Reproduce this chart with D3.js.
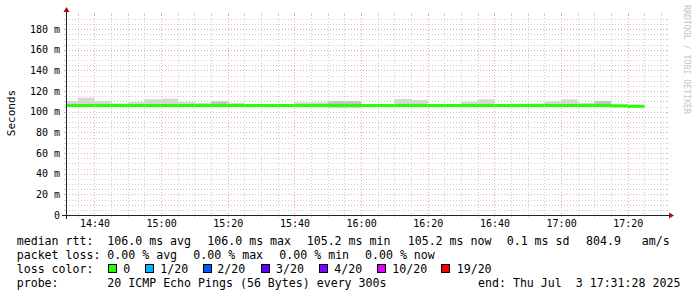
<!DOCTYPE html>
<html>
<head>
<meta charset="utf-8">
<script src="https://cdn.jsdelivr.net/npm/d3@7"></script>
<style>
  body { margin: 0; background: #fff; }
  svg text { font-family: "DejaVu Sans Mono", monospace; fill: #000; }
</style>
</head>
<body>
<svg id="chart" width="697" height="297"></svg>
<script>
// 5-minute steps (end time of each step)
const stepEnds = ["14:35","14:40","14:45","14:50","14:55","15:00","15:05","15:10","15:15","15:20",
  "15:25","15:30","15:35","15:40","15:45","15:50","15:55","16:00","16:05","16:10",
  "16:15","16:20","16:25","16:30","16:35","16:40","16:45","16:50","16:55","17:00",
  "17:05","17:10","17:15","17:20","17:25"];

// median rtt per step (ms)
const median = [106.0,106.0,106.0,106.0,106.0,106.0,106.0,106.0,106.0,106.0,
  106.0,106.0,106.0,106.0,106.0,106.0,106.0,106.0,106.0,106.0,
  106.0,106.0,106.0,106.0,106.0,106.0,106.0,106.0,106.0,106.0,
  106.0,106.0,106.0,105.6,105.2];

// smoke: highest and lowest ping per step (ms)
const smokeHi = [110.3,113.5,110.3,108.0,109.4,112.0,112.6,109.4,108.5,110.0,
  108.5,107.5,107.5,107.5,109.0,109.0,110.2,110.2,107.5,107.5,
  112.2,111.3,107.5,107.5,109.7,112.0,107.5,107.8,108.0,110.0,
  112.0,108.5,110.3,107.2,106.5];
const smokeLo = [104.5,104.5,104.5,104.6,104.6,104.6,104.6,104.6,104.6,104.5,
  104.6,104.7,104.7,104.7,104.3,104.3,103.8,103.8,104.7,104.7,
  104.6,104.6,104.7,104.7,104.3,104.6,104.7,104.6,104.6,104.6,
  104.6,104.6,104.5,104.6,104.8];
// steps with denser smoke
const smokeDense = ["15:20","15:55","16:00","17:15"];

const yTicks = [0, 20, 40, 60, 80, 100, 120, 140, 160, 180];
const yLabels = ["0", "20 m", "40 m", "60 m", "80 m", "100 m", "120 m", "140 m", "160 m", "180 m"];
const xTicks = ["14:40", "15:00", "15:20", "15:40", "16:00", "16:20", "16:40", "17:00", "17:20"];

const lossColors = ["#26ff00", "#00b8ff", "#0059ff", "#5e00ff", "#7e00ff", "#dd00ff", "#ff0000"];
const lossLabels = ["0", "1/20", "2/20", "3/20", "4/20", "10/20", "19/20"];

const parse = d3.timeParse("%Y-%m-%d %H:%M:%S");
const day = "2025-07-03 ";
const tStart = parse(day + "14:31:28"), tEnd = parse(day + "17:31:28");

const svg = d3.select("#chart");
const X0 = 66, X1 = 666, Y0 = 215, Y1 = 15;

const x = d3.scaleTime().domain([tStart, tEnd]).range([X0, X1]);
const y = d3.scaleLinear().domain([0, 193.55]).range([Y0, Y1]);

const gridCol = "#cfcfcf", mgridCol = "#eeaaaa";

// horizontal grid
const minorY = d3.range(5, 194, 5).filter(v => v % 20 !== 0);
function hline(v, col) {
  const yy = Math.round(y(v)) + 0.5;
  svg.append("line").attr("x1", X0 - 2).attr("x2", X0).attr("y1", yy).attr("y2", yy).attr("stroke", col);
  svg.append("line").attr("x1", X1).attr("x2", X1 + 2).attr("y1", yy).attr("y2", yy).attr("stroke", col);
  svg.append("line").attr("x1", X0).attr("x2", X1).attr("y1", yy).attr("y2", yy)
    .attr("stroke", col).attr("stroke-dasharray", "1,2");
}
minorY.forEach(v => hline(v, gridCol));
yTicks.filter(v => v > 0).forEach(v => hline(v, mgridCol));

// vertical grid
const minorX = d3.timeMinute.every(5).range(tStart, tEnd).filter(d => d.getMinutes() % 20 !== 0);
const majorX = xTicks.map(s => parse(day + s + ":00"));
function vline(d, col) {
  const xx = Math.round(x(d)) + 0.5;
  svg.append("line").attr("x1", xx).attr("x2", xx).attr("y1", Y0).attr("y2", Y0 + 2).attr("stroke", col);
  svg.append("line").attr("x1", xx).attr("x2", xx).attr("y1", Y1 - 2).attr("y2", Y1).attr("stroke", col);
  svg.append("line").attr("x1", xx).attr("x2", xx).attr("y1", Y1).attr("y2", Y0)
    .attr("stroke", col).attr("stroke-dasharray", "1,2");
}
minorX.forEach(d => vline(d, gridCol));
majorX.forEach(d => vline(d, mgridCol));

// smoke and median
const steps = stepEnds.map((s, i) => {
  const end = parse(day + s + ":00");
  return {
    start: d3.max([tStart, d3.timeMinute.offset(end, -5)]),
    end: end, med: median[i], hi: smokeHi[i], lo: smokeLo[i],
    dense: smokeDense.includes(s)
  };
});

svg.append("g").selectAll("rect").data(steps).join("rect")
  .attr("x", d => x(d.start)).attr("width", d => x(d.end) - x(d.start))
  .attr("y", d => y(d.hi)).attr("height", d => y(d.lo) - y(d.hi))
  .attr("fill", d => d.dense ? "#c4c4c4" : "#d6d6d6");

svg.append("g").selectAll("rect").data(steps).join("rect")
  .attr("x", d => x(d.start)).attr("width", d => x(d.end) - x(d.start))
  .attr("y", d => y(d.med) - 1.5).attr("height", 3)
  .attr("fill", lossColors[0]);

// axis tick labels
const yAxis = d3.axisLeft(y).tickValues(yTicks).tickSize(0).tickPadding(6)
  .tickFormat((d, i) => yLabels[i]);
svg.append("g").attr("transform", `translate(${X0},0)`).call(yAxis)
  .call(g => g.select(".domain").remove())
  .selectAll("text").attr("font-size", 10).attr("font-family", "DejaVu Sans Mono").attr("fill", "#000");

const xAxis = d3.axisBottom(x).tickValues(majorX).tickSize(0).tickPadding(5)
  .tickFormat(d3.timeFormat("%H:%M"));
svg.append("g").attr("transform", `translate(0,${Y0})`).call(xAxis)
  .call(g => g.select(".domain").remove())
  .selectAll("text").attr("font-size", 10).attr("font-family", "DejaVu Sans Mono").attr("fill", "#000");

// axis lines with arrows
svg.append("line").attr("x1", X0 - 4).attr("x2", X1 + 4).attr("y1", Y0 + 0.5).attr("y2", Y0 + 0.5).attr("stroke", "#222");
svg.append("line").attr("x1", X0 + 0.5).attr("x2", X0 + 0.5).attr("y1", Y0 + 4).attr("y2", Y1 - 4).attr("stroke", "#222");
svg.append("path").attr("d", `M${X1 + 3},${Y0 - 2.5}L${X1 + 8},${Y0 + 0.5}L${X1 + 3},${Y0 + 3.5}Z`).attr("fill", "#a01010");
svg.append("path").attr("d", `M${X0 - 2.5},${Y1 - 3}L${X0 + 0.5},${Y1 - 8}L${X0 + 3.5},${Y1 - 3}Z`).attr("fill", "#a01010");

// y title
svg.append("text").attr("transform", "translate(15,113) rotate(-90)")
  .attr("text-anchor", "middle").attr("font-size", 11).text("Seconds");

// watermark
svg.append("text").attr("transform", "translate(684,5) rotate(90)")
  .attr("font-size", 8.5).attr("textLength", 109).attr("lengthAdjust", "spacingAndGlyphs")
  .style("fill", "#c4c4c4").text("RRDTOOL / TOBI OETIKER");

// legend
const lg = svg.append("g").attr("font-size", 11.6).style("white-space", "pre");
function txt(xx, yy, s) { lg.append("text").attr("x", xx).attr("y", yy).attr("xml:space", "preserve").text(s); }

txt(16.7, 245, "median rtt:");
[[107.3, "106.0 ms avg"], [207.3, "106.0 ms max"], [306.7, "105.2 ms min"], [407.7, "105.2 ms now"],
 [506.7, "0.1 ms sd"], [586, "804.9"], [641.7, "am/s"]].forEach(p => txt(p[0], 245, p[1]));

txt(16.7, 259, "packet loss:");
[[107.3, "0.00 % avg"], [193.3, "0.00 % max"], [279.3, "0.00 % min"], [365, "0.00 % now"]]
  .forEach(p => txt(p[0], 259, p[1]));

txt(16.7, 273, "loss color:");
const boxX = [108.5, 145.5, 203.5, 261.5, 319.5, 377.5, 441.5];
const labX = [123.3, 160.3, 217.3, 276, 334.3, 392.3, 456.7];
lossColors.forEach((c, i) => {
  lg.append("rect").attr("x", boxX[i]).attr("y", 264.5).attr("width", 8).attr("height", 8)
    .attr("fill", c).attr("stroke", "#000").attr("stroke-width", 1);
  txt(labX[i], 273, lossLabels[i]);
});

txt(16.7, 287, "probe:");
txt(107.3, 287, "20 ICMP Echo Pings (56 Bytes) every 300s");
txt(478, 287, "end: Thu Jul  3 17:31:28 2025");
</script>
</body>
</html>
